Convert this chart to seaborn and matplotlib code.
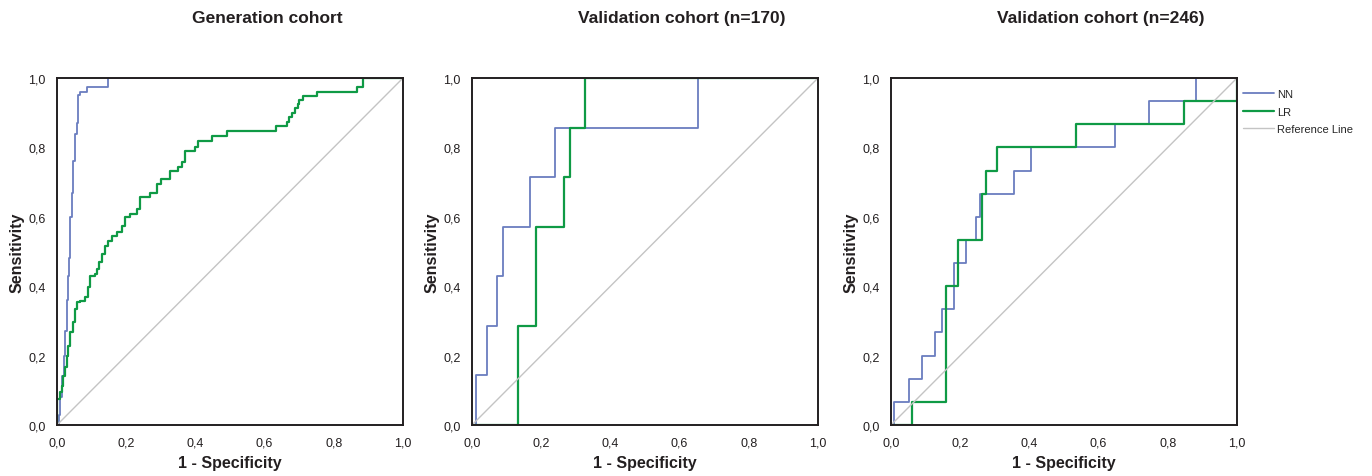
import numpy as np
import pandas as pd
import matplotlib
matplotlib.use("Agg")
import matplotlib.pyplot as plt
import seaborn as sns

# ROC step points (1 - specificity, sensitivity), jump happens at each x
gen_nn_x = [0.0, 0.005, 0.010, 0.015, 0.020, 0.023, 0.028, 0.032, 0.036, 0.038, 0.042,
            0.047, 0.052, 0.057, 0.062, 0.066, 0.086, 0.148, 1.0]
gen_nn_y = [0.0, 0.03, 0.08, 0.14, 0.20, 0.27, 0.36, 0.43, 0.48, 0.60, 0.67,
            0.76, 0.84, 0.87, 0.95, 0.96, 0.973, 1.0, 1.0]

gen_lr_x = [0.0, 0.0, 0.009, 0.014, 0.018, 0.023, 0.028, 0.033, 0.038, 0.047, 0.052,
            0.057, 0.066, 0.081, 0.090, 0.095, 0.110, 0.115, 0.120, 0.129, 0.139,
            0.148, 0.158, 0.172, 0.187, 0.197, 0.211, 0.230, 0.240, 0.269, 0.288,
            0.302, 0.327, 0.351, 0.360, 0.370, 0.399, 0.408, 0.447, 0.490, 0.633,
            0.666, 0.671, 0.679, 0.688, 0.696, 0.700, 0.710, 0.752, 0.868, 0.884, 1.0]
gen_lr_y = [0.0, 0.075, 0.094, 0.113, 0.142, 0.166, 0.200, 0.229, 0.267, 0.296, 0.334,
            0.354, 0.358, 0.368, 0.397, 0.430, 0.435, 0.450, 0.469, 0.493, 0.517,
            0.531, 0.546, 0.555, 0.574, 0.598, 0.608, 0.622, 0.656, 0.670, 0.694,
            0.709, 0.733, 0.743, 0.757, 0.790, 0.800, 0.819, 0.834, 0.846, 0.861,
            0.872, 0.887, 0.900, 0.913, 0.926, 0.936, 0.949, 0.961, 0.974, 1.0, 1.0]

v170_nn_x = [0.0, 0.011, 0.044, 0.071, 0.089, 0.167, 0.240, 0.654, 1.0]
v170_nn_y = [0.0, 0.143, 0.286, 0.429, 0.571, 0.714, 0.857, 1.0, 1.0]
v170_lr_x = [0.0, 0.133, 0.185, 0.266, 0.282, 0.327, 1.0]
v170_lr_y = [0.0, 0.286, 0.571, 0.714, 0.857, 1.0, 1.0]

v246_nn_x = [0.0, 0.009, 0.053, 0.089, 0.126, 0.146, 0.183, 0.216, 0.245, 0.257,
             0.356, 0.405, 0.646, 0.745, 0.881, 1.0]
v246_nn_y = [0.0, 0.067, 0.133, 0.200, 0.267, 0.333, 0.467, 0.533, 0.600, 0.667,
             0.733, 0.800, 0.867, 0.933, 1.0, 1.0]
v246_lr_x = [0.0, 0.060, 0.160, 0.195, 0.263, 0.276, 0.307, 0.535, 0.848, 1.0]
v246_lr_y = [0.0, 0.067, 0.400, 0.533, 0.667, 0.733, 0.800, 0.867, 0.933, 1.0]

ref_x = [0.0, 1.0]
ref_y = [0.0, 1.0]

titles = ["Generation cohort", "Validation cohort (n=170)", "Validation cohort (n=246)"]
tick_vals = [0.0, 0.2, 0.4, 0.6, 0.8, 1.0]
tick_labels = ["0,0", "0,2", "0,4", "0,6", "0,8", "1,0"]

panels = [
    (gen_nn_x, gen_nn_y, gen_lr_x, gen_lr_y),
    (v170_nn_x, v170_nn_y, v170_lr_x, v170_lr_y),
    (v246_nn_x, v246_nn_y, v246_lr_x, v246_lr_y),
]

sns.set_style("white")
plt.rcParams['font.family'] = ['Liberation Sans', 'DejaVu Sans']

nn_color = '#6a7dbf'
lr_color = '#0f9a45'
ref_color = '#c4c4c4'
spine_color = '#231f20'

fig = plt.figure(figsize=(13.72, 4.77), dpi=100)
lefts = [57 / 1372, 472 / 1372, 891 / 1372]
w = 346 / 1372
bottom = 1 - 426 / 477
h = 347 / 477

for i, (nx, ny, lx, ly) in enumerate(panels):
    ax = fig.add_axes([lefts[i], bottom, w, h])
    sns.lineplot(x=nx, y=ny, ax=ax, color=nn_color, lw=1.3, drawstyle='steps-post',
                 estimator=None, sort=False, label='NN')
    sns.lineplot(x=lx, y=ly, ax=ax, color=lr_color, lw=1.6, drawstyle='steps-post',
                 estimator=None, sort=False, label='LR')
    sns.lineplot(x=ref_x, y=ref_y, ax=ax, color=ref_color, lw=1.0,
                 estimator=None, sort=False, label='Reference Line')
    ax.set_xlim(0, 1)
    ax.set_ylim(0, 1)
    ax.set_xticks(tick_vals)
    ax.set_xticklabels(tick_labels)
    ax.set_yticks(tick_vals)
    ax.set_yticklabels(tick_labels)
    ax.tick_params(direction='out', length=5, width=1.3, color=spine_color,
                   labelsize=9, pad=3, labelcolor='#231f20')
    for s in ax.spines.values():
        s.set_color(spine_color)
        s.set_linewidth(1.4)
    ax.set_xlabel('1 - Specificity', fontsize=11.5, fontweight='bold', labelpad=5,
                  color='#231f20')
    ax.set_ylabel('Sensitivity', fontsize=11.5, fontweight='bold', labelpad=3,
                  color='#231f20')
    ax.set_title(titles[i], fontsize=12.5, fontweight='bold', pad=40.5,
                 color='#231f20', x=0.607)
    if i < 2:
        ax.get_legend().remove()
    else:
        ax.legend(loc='upper left', bbox_to_anchor=(1.0, 0.985), frameon=False,
                  fontsize=8, handlelength=2.8, handletextpad=0.3,
                  borderaxespad=0.1, labelspacing=0.7)

fig.savefig('out.png', dpi=100)
